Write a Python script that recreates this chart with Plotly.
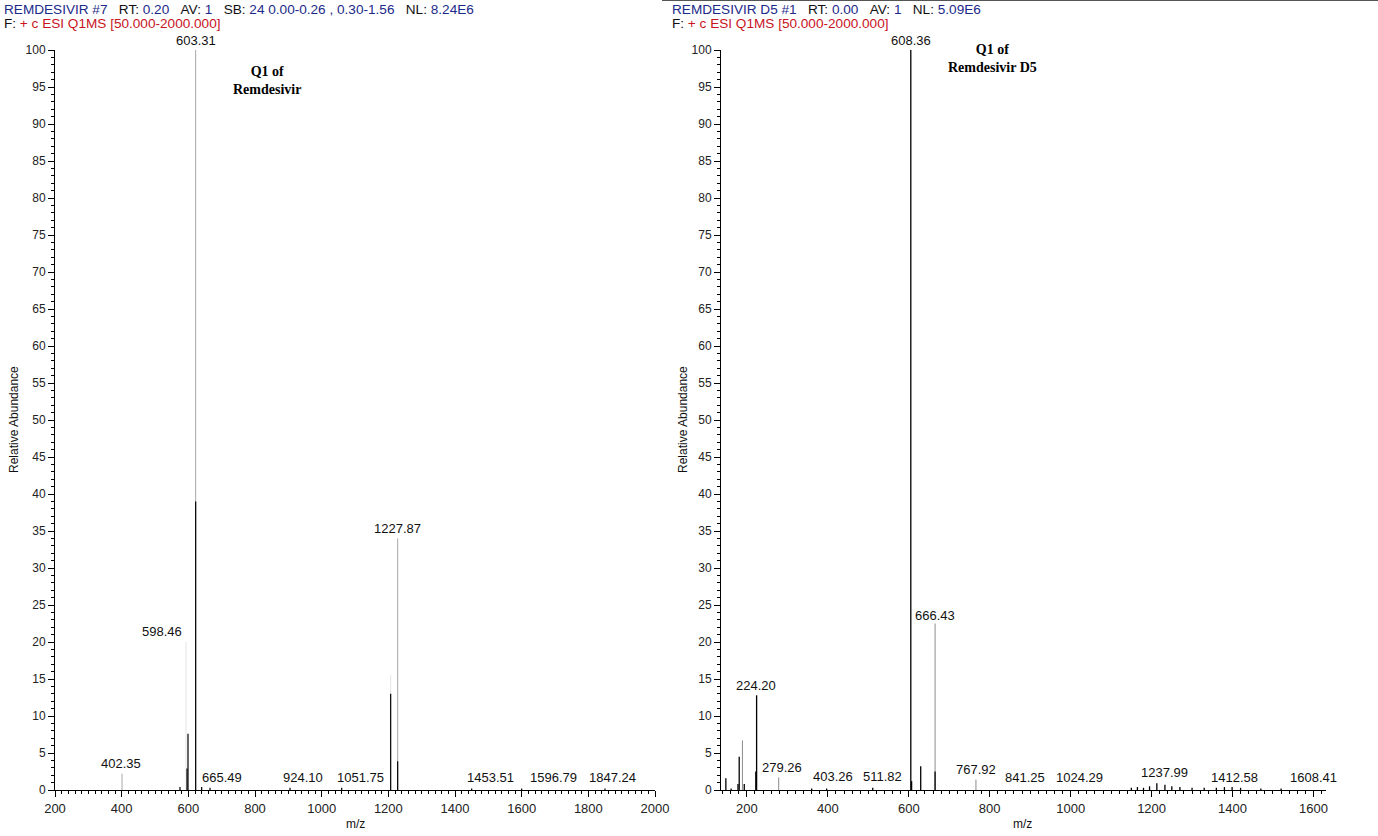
import plotly.graph_objects as go

# ---------------- data: left spectrum (Remdesivir) ----------------
left_black_mz = [575, 596, 599, 622, 640, 665, 905, 1060, 1207, 1228, 1450, 1600, 1850]
left_black_int = [0.4, 2.9, 7.6, 39.0, 0.4, 0.3, 0.3, 0.3, 13.0, 3.9, 0.2, 0.2, 0.2]
left_grey_mz = [401, 622, 1228]
left_grey_int = [2.2, 100.0, 34.0]
left_faint_mz = [593, 1207]
left_faint_int = [20.0, 15.5]
left_label_text = ["603.31", "598.46", "1227.87", "402.35", "665.49", "924.10",
                   "1051.75", "1453.51", "1596.79", "1847.24"]
left_label_mz = [622, 521, 1228, 398, 702, 944, 1115, 1505, 1694, 1871]
left_label_int = [100.0, 20.2, 34.0, 2.3, 0.4, 0.4, 0.4, 0.4, 0.4, 0.4]

# ---------------- data: right spectrum (Remdesivir D5) ----------------
right_black_mz = [148, 161, 178, 181, 193.5, 222, 224, 360, 397, 511, 605, 607, 629.5, 665,
                  1150, 1165, 1180, 1195, 1213, 1233, 1250, 1270, 1300, 1330, 1360, 1380, 1399, 1420, 1470, 1520]
right_black_int = [1.6, 0.2, 0.8, 4.5, 0.8, 2.5, 12.8, 0.2, 0.2, 0.3, 100.0, 1.2, 3.2, 2.5,
                   0.3, 0.4, 0.3, 0.5, 0.9, 0.7, 0.5, 0.4, 0.3, 0.3, 0.3, 0.4, 0.4, 0.3, 0.2, 0.2]
right_grey_mz = [189, 278.6, 665, 766]
right_grey_int = [6.7, 1.7, 22.5, 1.4]
right_label_text = ["608.36", "224.20", "666.43", "279.26", "403.26", "511.82", "767.92",
                    "841.25", "1024.29", "1237.99", "1412.58", "1608.41"]
right_label_mz = [605, 222, 665, 286, 412, 535, 766, 887, 1021, 1233, 1406, 1600]
right_label_int = [100.0, 12.8, 22.3, 1.8, 0.5, 0.5, 1.5, 0.45, 0.45, 1.1, 0.45, 0.45]

W, H = 1378, 836
REF_L, REF_T, REF_R, REF_B = 55, 50, 1326, 790
L, T, R, B = REF_L, REF_T, W - REF_R, H - REF_B
PW, PH = REF_R - REF_L, REF_B - REF_T


def sticks(mz, inten):
    xs, ys = [], []
    for m, i in zip(mz, inten):
        xs += [m, m, None]
        ys += [0, i, None]
    return xs, ys


def px_x(px):
    return (px - REF_L) / PW


def px_y(py):
    return (REF_B - py) / PH


fig = go.Figure()

for mz, it, col, w, ax in [
    (left_faint_mz, left_faint_int, "#e4e4e4", 1, "x"),
    (left_grey_mz, left_grey_int, "#a8a8a8", 1, "x"),
    (left_black_mz, left_black_int, "#000000", 1.2, "x"),
    (right_grey_mz, right_grey_int, "#8c8c8c", 1, "x2"),
    (right_black_mz, right_black_int, "#000000", 1.3, "x2"),
]:
    xs, ys = sticks(mz, it)
    fig.add_trace(go.Scatter(x=xs, y=ys, mode="lines", line=dict(color=col, width=w),
                             xaxis=ax, yaxis="y" if ax == "x" else "y2",
                             showlegend=False, hoverinfo="skip"))

lab_font = dict(family="Liberation Sans, Arial", size=13, color="#111")
for t, m, i in zip(left_label_text, left_label_mz, left_label_int):
    fig.add_annotation(x=m, y=i, xref="x", yref="y", text=t, showarrow=False,
                       xanchor="center", yanchor="bottom", font=lab_font, yshift=0)
for t, m, i in zip(right_label_text, right_label_mz, right_label_int):
    fig.add_annotation(x=m, y=i, xref="x2", yref="y2", text=t, showarrow=False,
                       xanchor="center", yanchor="bottom", font=lab_font, yshift=0)

xaxis_common = dict(showline=True, linecolor="#000", linewidth=1, ticks="outside",
                    ticklen=6, tickcolor="#000", showgrid=False, zeroline=False,
                    tickfont=dict(family="Liberation Sans, Arial", size=13, color="#222"))
yaxis_common = dict(xaxis_common)
yaxis_common["tickfont"] = dict(family="Liberation Sans, Arial", size=12, color="#222")

fig.update_layout(
    width=W, height=H, margin=dict(l=L, r=R, t=T, b=B),
    paper_bgcolor="white", plot_bgcolor="white",
    xaxis=dict(domain=[0, px_x(655)], range=[200, 2000], dtick=200, tick0=0,
               minor=dict(dtick=20, ticklen=3, tickcolor="#000", ticks="outside"),
               anchor="y", **xaxis_common),
    yaxis=dict(domain=[0, 1], range=[0, 100], dtick=5, anchor="x",
               minor=dict(dtick=1, ticklen=3, tickcolor="#000", ticks="outside"),
               **yaxis_common),
    xaxis2=dict(domain=[px_x(721), 1], range=[136, 1631], dtick=200, tick0=0,
                minor=dict(dtick=20, ticklen=3, tickcolor="#000", ticks="outside"),
                anchor="y2", **xaxis_common),
    yaxis2=dict(domain=[0, 1], range=[0, 100], dtick=5, anchor="x2",
                minor=dict(dtick=1, ticklen=3, tickcolor="#000", ticks="outside"),
                **yaxis_common),
)

blue = "#1c2a8a"
red = "#c8141e"
S = "\u00a0"
hdr_font = dict(family="Liberation Sans, Arial", size=13.6, color="#111")


def b(t):
    return f'<span style="color:{blue}">{t}</span>'


def r(t):
    return f'<span style="color:{red}">{t}</span>'


hdr_left_1 = (b("REMDESIVIR" + S + "#7") + S * 3 + "RT:" + S + b("0.20") + S * 3 + "AV:" + S + b("1") +
              S * 3 + "SB:" + S + b("24" + S + "0.00-0.26" + S + "," + S + "0.30-1.56") +
              S * 3 + "NL:" + S + b("8.24E6"))
hdr_2 = "F:" + S + r("+" + S + "c" + S + "ESI" + S + "Q1MS" + S + "[50.000-2000.000]")
hdr_right_1 = (b("REMDESIVIR" + S + "D5" + S + "#1") + S * 3 + "RT:" + S + b("0.00") + S * 3 +
               "AV:" + S + b("1") + S * 3 + "NL:" + S + b("5.09E6"))

for txt, x0, y0 in [(hdr_left_1, 2, 9), (hdr_2, 2, 23), (hdr_right_1, 670, 9), (hdr_2, 670, 23)]:
    fig.add_annotation(x=px_x(x0), y=px_y(y0), xref="paper", yref="paper", text=txt,
                       showarrow=False, xanchor="left", yanchor="middle", font=hdr_font)

title_font = dict(family="Liberation Serif, Times New Roman", size=14, color="#000")
fig.add_annotation(x=px_x(267), y=px_y(80), xref="paper", yref="paper",
                   text="<b>Q1 of</b><br><b>Remdesivir</b>", showarrow=False,
                   xanchor="center", yanchor="middle", font=title_font)
fig.add_annotation(x=px_x(992), y=px_y(59), xref="paper", yref="paper",
                   text="<b>Q1 of</b><br><b>Remdesivir D5</b>", showarrow=False,
                   xanchor="center", yanchor="middle", font=title_font)

ax_font = dict(family="Liberation Sans, Arial", size=12, color="#111")
for x0 in (14, 683):
    fig.add_annotation(x=px_x(x0), y=px_y(420), xref="paper", yref="paper",
                       text="Relative Abundance", textangle=-90, showarrow=False,
                       xanchor="center", yanchor="middle", font=ax_font)
for x0 in (355, 1022):
    fig.add_annotation(x=px_x(x0), y=px_y(824), xref="paper", yref="paper",
                       text="m/z", showarrow=False, xanchor="center", yanchor="middle",
                       font=ax_font)

fig.add_shape(type="line", xref="paper", yref="paper", x0=px_x(662), x1=px_x(1378),
              y0=px_y(0.5), y1=px_y(0.5), line=dict(color="#555", width=1))

fig.write_html("out.html", config={"displayModeBar": False},
               post_script="document.body.style.margin='0px';document.body.style.padding='0px';")
